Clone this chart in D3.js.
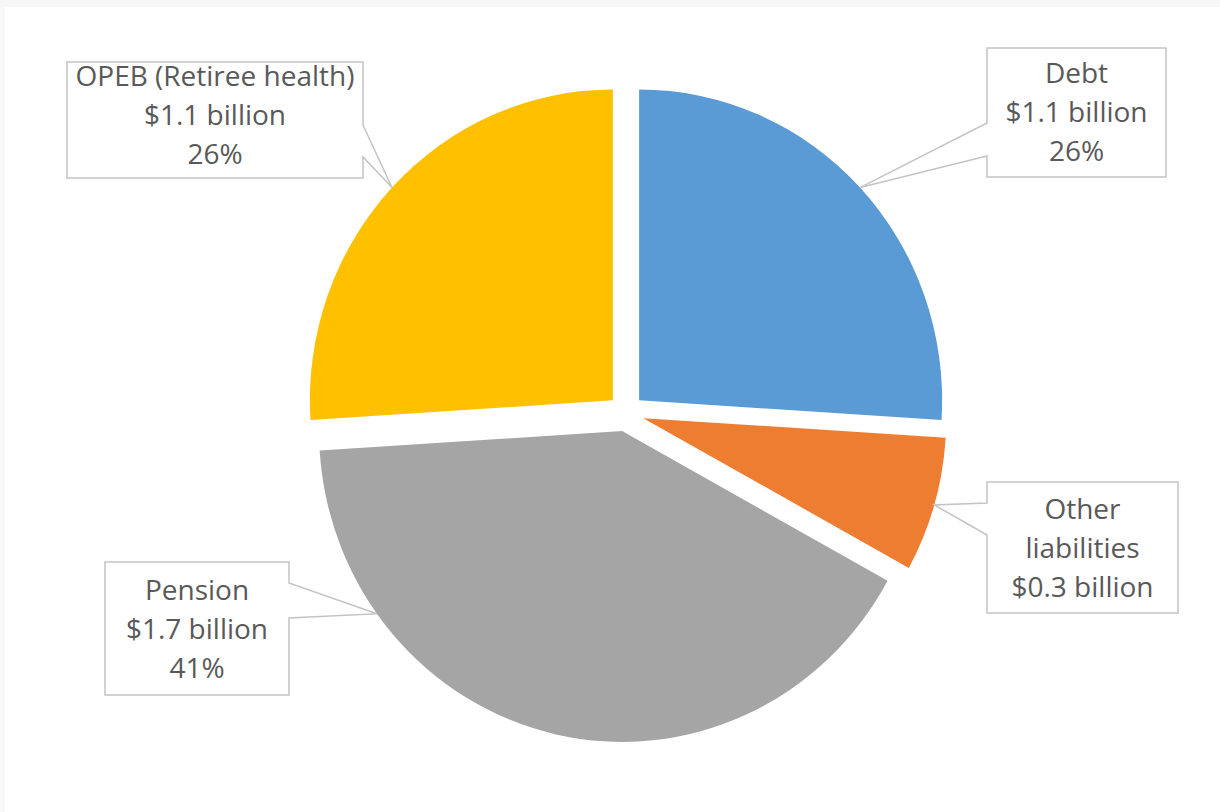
<!DOCTYPE html>
<meta charset="utf-8">
<style>
body { margin: 0; background: #fff; }
.frame { fill: #f7f7f7; }
.callout { fill: #fff; stroke: #c4c4c4; stroke-width: 1.5px; }
.label { font-family: "Open Sans", sans-serif; font-size: 28px; fill: #595959; text-anchor: middle; }
</style>
<svg width="1220" height="812"></svg>
<script src="https://d3js.org/d3.v7.min.js"></script>
<script>

// data, clockwise from 12 o'clock
const categories = ["Debt", "Other liabilities", "Pension", "OPEB (Retiree health)"];
const billions = [1.1, 0.3, 1.7, 1.1];
const shares = [26, 7, 41, 26];          // percent of total, as the slices show
const percents = ["26%", null, "41%", "26%"];
const nameLines = [["Debt"], ["Other", "liabilities"], ["Pension"], ["OPEB (Retiree health)"]];
const colors = ["#5B9BD5", "#ED7D31", "#A5A5A5", "#FFC000"];

// layout
const CX = 626, CY = 413;
const R = 303;
const SY = 1.026;      // picture is a little taller than wide
const EXPLODE = 18;

// callout boxes: notch on one side, tip lands on the slice edge
const boxes = [
  {x: 987, y: 48,  w: 179, h: 129, side: "left",  n0: 123, n1: 156, base: 83},
  {x: 987, y: 482, w: 191, h: 131, side: "left",  n0: 503, n1: 535, base: 519},
  {x: 105, y: 562, w: 184, h: 133, side: "right", n0: 583, n1: 618, base: 600, tipAngle: 234},
  {x: 67,  y: 62,  w: 296, h: 116, side: "right", n0: 125, n1: 157, base: 86}
];
const LINE_H = 39;

var svg = d3.select("svg");

// faint frame at top and left
svg.append("rect").attr("class", "frame").attr("x", 0).attr("y", 0).attr("width", 1220).attr("height", 7);
svg.append("rect").attr("class", "frame").attr("x", 0).attr("y", 0).attr("width", 5).attr("height", 812);

var pie = d3.pie().sort(null).value(function(d) { return d; });
var arcs = pie(shares);
var arc = d3.arc().innerRadius(0).outerRadius(R);

var g = svg.append("g")
  .attr("transform", "translate(" + CX + "," + CY + ") scale(1," + SY + ")");

function mid(d) { return (d.startAngle + d.endAngle) / 2; }

g.selectAll("path.slice")
  .data(arcs)
  .enter().append("path")
    .attr("class", "slice")
    .attr("d", arc)
    .attr("transform", function(d) {
      var m = mid(d);
      return "translate(" + (EXPLODE * Math.sin(m)) + "," + (-EXPLODE * Math.cos(m)) + ")";
    })
    .style("fill", function(d, i) { return colors[i]; });

// screen position of the slice rim at angle a
function rimPoint(d, a) {
  var m = mid(d);
  var x = EXPLODE * Math.sin(m) + R * Math.sin(a);
  var y = -EXPLODE * Math.cos(m) - R * Math.cos(a);
  return [CX + x, CY + y * SY];
}

function calloutPath(b, tip) {
  var p = d3.path();
  if (b.side == "left") {
    p.moveTo(b.x, b.y);
    p.lineTo(b.x + b.w, b.y);
    p.lineTo(b.x + b.w, b.y + b.h);
    p.lineTo(b.x, b.y + b.h);
    p.lineTo(b.x, b.n1);
    p.lineTo(tip[0], tip[1]);
    p.lineTo(b.x, b.n0);
  } else {
    p.moveTo(b.x, b.y);
    p.lineTo(b.x + b.w, b.y);
    p.lineTo(b.x + b.w, b.n0);
    p.lineTo(tip[0], tip[1]);
    p.lineTo(b.x + b.w, b.n1);
    p.lineTo(b.x + b.w, b.y + b.h);
    p.lineTo(b.x, b.y + b.h);
  }
  p.closePath();
  return p.toString();
}

var fmt = d3.format(".1f");

arcs.forEach(function(d, i) {
  var b = boxes[i];
  var a = b.tipAngle != null ? b.tipAngle * Math.PI / 180 : mid(d);
  var tip = rimPoint(d, a);

  svg.append("path")
    .attr("class", "callout")
    .attr("d", calloutPath(b, tip));

  var lines = nameLines[i].concat(["$" + fmt(billions[i]) + " billion"]);
  if (percents[i]) lines.push(percents[i]);

  svg.append("text")
    .attr("class", "label")
    .selectAll("tspan")
    .data(lines)
    .enter().append("tspan")
      .attr("x", b.x + b.w / 2)
      .attr("y", function(t, j) { return b.base + j * LINE_H; })
      .text(function(t) { return t; });
});

</script>
